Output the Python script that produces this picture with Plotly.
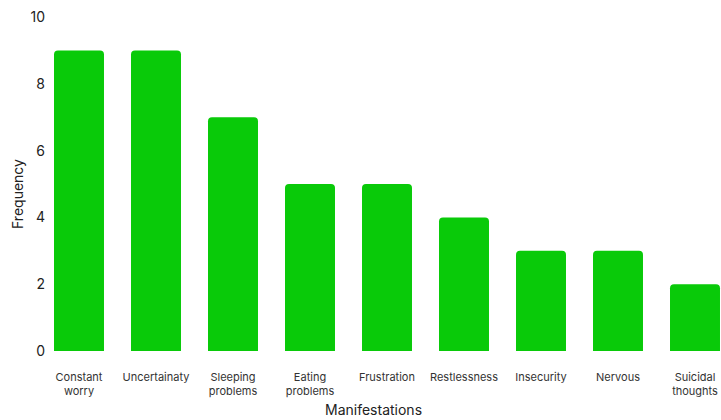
import plotly.graph_objects as go

categories = ["Constant<br>worry", "Uncertainaty", "Sleeping<br>problems", "Eating<br>problems",
              "Frustration", "Restlessness", "Insecurity", "Nervous", "Suicidal<br>thoughts"]
frequency = [9, 9, 7, 5, 5, 4, 3, 3, 2]
y_ticks = [0, 2, 4, 6, 8, 10]

L = 46
W = 721
unit = 77.0
x0 = (79 - L) / unit
x1 = (W - L) / unit - x0

fig = go.Figure(go.Bar(
    x=list(range(len(categories))), y=frequency,
    marker=dict(color="#09CA09", cornerradius=4, line=dict(width=0)),
    hoverinfo="skip",
))

fig.update_layout(
    width=W, height=420,
    margin=dict(l=L, r=0, t=17, b=69),
    paper_bgcolor="white", plot_bgcolor="white",
    font=dict(family="Inter", color="#222"),
    bargap=0.351,
    showlegend=False,
    xaxis=dict(range=[-x0, x1], tickvals=list(range(len(categories))), ticktext=categories,
               showgrid=False, zeroline=False, showline=False, ticks="", ticklabelstandoff=18,
               tickfont=dict(size=11, color="#333"), automargin=False),
    yaxis=dict(range=[0, 10], tickvals=y_ticks, showgrid=False, zeroline=False, showline=False,
               ticks="", tickfont=dict(size=14, color="#222"), automargin=False),
    annotations=[
        dict(text="Manifestations", xref="paper", yref="paper", x=(373 - L) / (W - L), y=-(410 - 351) / 334,
             xanchor="center", yanchor="middle", showarrow=False, font=dict(size=14, color="#222")),
        dict(text="Frequency", xref="paper", yref="paper", x=(17 - L) / (W - L), y=(351 - 194) / 334,
             xanchor="center", yanchor="middle", textangle=-90, showarrow=False,
             font=dict(size=14, color="#222")),
    ],
)

fig.write_html("out.html")
